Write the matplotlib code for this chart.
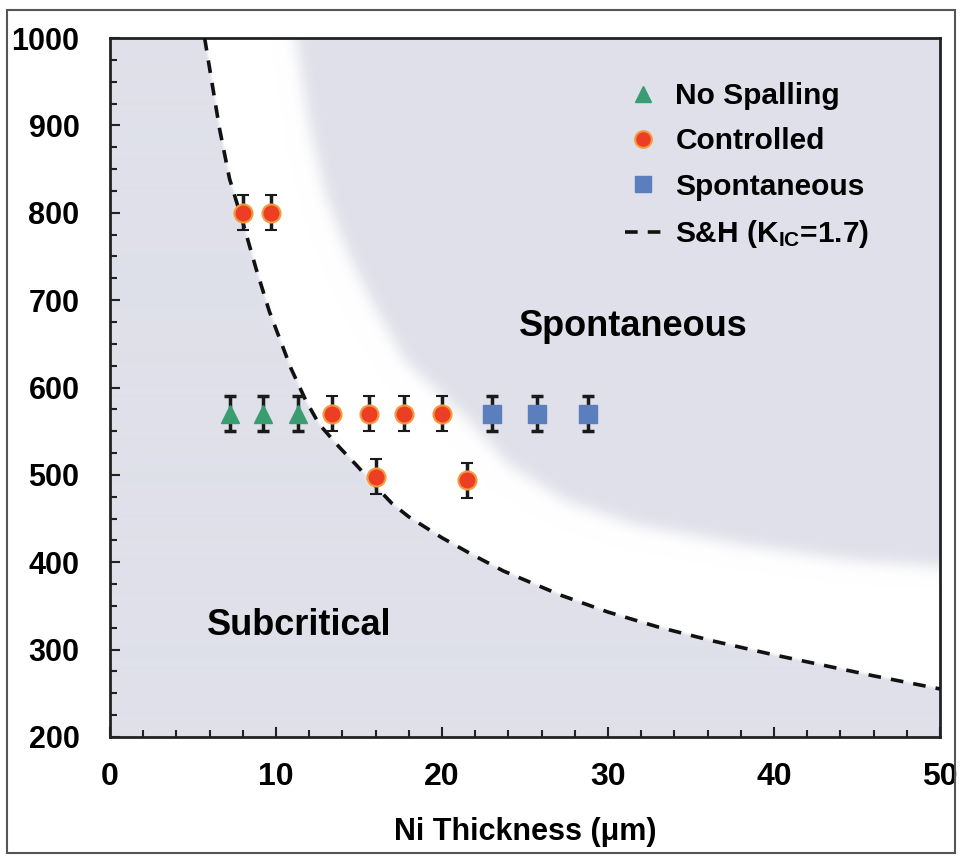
import numpy as np
import matplotlib
matplotlib.use('Agg')
import matplotlib.pyplot as plt
from matplotlib.lines import Line2D
from matplotlib.patches import Rectangle
from matplotlib.ticker import MultipleLocator

# measured points
no_spall_x = [7.2, 9.2, 11.3]
no_spall_y = [570, 570, 570]
ctrl_x = [8.0, 9.7, 13.4, 15.6, 17.7, 20.0, 16.0, 21.5]
ctrl_y = [800, 800, 570, 570, 570, 570, 498, 494]
spont_x = [23.0, 25.7, 28.8]
spont_y = [570, 570, 570]
err = 20

# S&H curve
sh_x = [5.7, 6.6, 7.2, 8.0, 8.8, 9.6, 10.9, 11.8, 12.6, 13.8, 14.9, 15.9,
        17.0, 18.0, 20.0, 21.7, 23.7, 27.2, 30.0, 33.0, 36.3, 40.0, 43.0, 46.0, 50.0]
sh_y = [1000, 896, 839, 789, 736, 687, 622, 585, 558, 532, 510, 489,
        467, 452, 428, 410, 390, 362, 343, 326, 310, 294, 282, 270, 255]

# edge of the spontaneous zone
sp_x = [11.2, 12.0, 13.0, 14.4, 16.0, 17.8, 19.5, 21.5, 24.0, 27.5, 31.6, 38.1, 44.7, 50.0]
sp_y = [1000, 900, 820, 750, 690, 630, 600, 565, 512, 470, 443, 420, 402, 395]

plt.rcParams['font.family'] = ['Liberation Sans', 'DejaVu Sans']
plt.rcParams['font.weight'] = 'bold'
plt.rcParams['axes.labelweight'] = 'bold'
plt.rcParams['mathtext.fontset'] = 'custom'
plt.rcParams['mathtext.rm'] = 'Liberation Sans:bold'
plt.rcParams['mathtext.bf'] = 'Liberation Sans:bold'
plt.rcParams['mathtext.default'] = 'bf'

GRAY = np.array([223, 224, 233]) / 255.0


def blur(a, sigma):
    r = int(3 * sigma) + 1
    k = np.exp(-0.5 * (np.arange(-r, r + 1) / sigma) ** 2)
    k /= k.sum()
    p = np.pad(a, r, mode='edge')
    p = np.apply_along_axis(lambda v: np.convolve(v, k, mode='valid'), 1, p)
    p = np.apply_along_axis(lambda v: np.convolve(v, k, mode='valid'), 0, p)
    return p


def background(nx=830, ny=700):
    xs = np.linspace(0, 50, nx)
    ys = np.linspace(200, 1000, ny)
    yc = np.interp(xs, sh_x, sh_y, left=1e9)
    yb = np.interp(xs, sp_x, sp_y, left=1e9)
    sub = (ys[:, None] < yc[None, :]).astype(float)
    sp = (ys[:, None] > yb[None, :]).astype(float)
    g = 1 - (1 - blur(sub, 1.2)) * (1 - blur(sp, 7))
    img = 1 - g[..., None] * (1 - GRAY[None, None, :])
    return img


fig = plt.figure(figsize=(9.61, 8.56), dpi=100)
ax = fig.add_axes([110 / 961, 1 - 737 / 856, 830 / 961, 699 / 856])

ax.imshow(background(), extent=[0, 50, 200, 1000], origin='lower',
          aspect='auto', interpolation='bilinear', zorder=0)

ax.plot(sh_x, sh_y, color='#111111', lw=2.6, dashes=(3.5, 2.8), zorder=3)

green = '#3a9d72'
red = '#ec3d25'
blue = '#5b7fbc'

ax.errorbar(no_spall_x, no_spall_y, yerr=err, fmt='^', ms=13, mfc=green, mec=green,
            ecolor='#1a1a1a', elinewidth=2.5, capsize=4, capthick=2.5, zorder=4)
ax.errorbar(ctrl_x, ctrl_y, yerr=err, fmt='o', ms=13, mfc=red, mec='#f39a3c', mew=1.5,
            ecolor='#1a1a1a', elinewidth=2.5, capsize=4, capthick=2.5, zorder=4)
ax.errorbar(spont_x, spont_y, yerr=err, fmt='s', ms=13, mfc=blue, mec=blue,
            ecolor='#1a1a1a', elinewidth=2.5, capsize=4, capthick=2.5, zorder=4)

ax.set_xlim(0, 50)
ax.set_ylim(200, 1000)
ax.set_xticks(range(0, 51, 10))
ax.set_yticks(range(200, 1001, 100))
ax.xaxis.set_minor_locator(MultipleLocator(2))
ax.yaxis.set_minor_locator(MultipleLocator(25))
ax.tick_params(which='both', direction='in', top=False, right=False, width=1.5, color='#222222')
ax.tick_params(which='major', length=7, labelsize=22)
ax.tick_params(which='minor', length=5)
ax.tick_params(axis='y', pad=22)
ax.tick_params(axis='x', pad=18, labelsize=23)
for s in ax.spines.values():
    s.set_linewidth(2)
    s.set_color('#222222')

ax.set_xlabel('Ni Thickness (μm)', fontsize=22, fontweight='bold', labelpad=18)

ax.text(31.5, 670, 'Spontaneous', ha='center', va='center', fontsize=26, zorder=5)
ax.text(11.4, 328, 'Subcritical', ha='center', va='center', fontsize=26, zorder=5)

handles = [
    Line2D([], [], ls='none', marker='^', ms=12, mfc=green, mec=green),
    Line2D([], [], ls='none', marker='o', ms=12, mfc=red, mec='#f39a3c', mew=1.5),
    Line2D([], [], ls='none', marker='s', ms=11, mfc=blue, mec=blue),
    Line2D([], [], color='#111111', lw=2.6, dashes=(3.5, 2.8)),
]
labels = ['No Spalling', 'Controlled', 'Spontaneous', r'S&H (K$_{IC}$=1.7)']
ax.legend(handles, labels, loc='upper left', bbox_to_anchor=(0.62, 0.937),
          frameon=False, fontsize=21.5, handlelength=1.25, handletextpad=0.45,
          labelspacing=0.58, borderpad=0, borderaxespad=0)

fig.add_artist(Rectangle((7 / 961, 1 - 853 / 856), 948 / 961, 843 / 856,
                         transform=fig.transFigure, fill=False, lw=1.5, ec='#555555'))

fig.savefig('out.png', dpi=100)
